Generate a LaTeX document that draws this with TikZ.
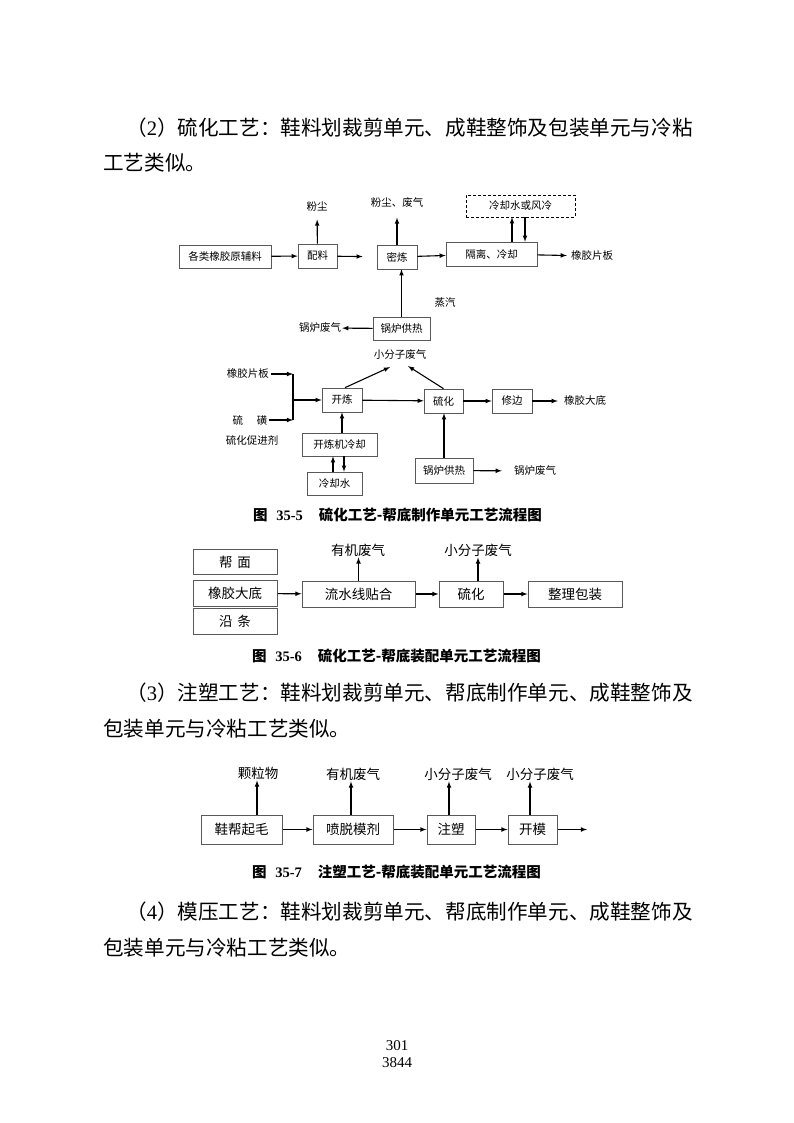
\documentclass[tikz,border=0pt]{standalone}
\usepackage{fontspec}
\setmainfont{Liberation Serif}
\newfontfamily\cjk{Noto Sans CJK SC}
\usepackage{xcolor}
\usepackage{tikz}

\begin{document}
\begin{tikzpicture}[x=1pt, y=-1pt, >=latex,
        B node/.style={draw=black!65, line width=0.7pt, inner sep=0pt, font=\cjk\fontsize{10.5}{12}\selectfont},
        T node/.style={inner sep=1pt, font=\cjk\fontsize{10.5}{12}\selectfont},
        BB node/.style={draw=black!65, line width=1pt, inner sep=0pt, font=\cjk\fontsize{13.5}{15}\selectfont},
        TT node/.style={inner sep=1pt, font=\cjk\fontsize{13.5}{15}\selectfont},
        P node/.style={anchor=west, inner sep=0pt, font=\cjk\fontsize{20.6}{26}\selectfont},
        C node/.style={anchor=west, inner sep=0pt, font=\cjk\bfseries\fontsize{14.5}{16}\selectfont},
        flow/.style={->, line width=1.1pt}]

    \useasboundingbox (0,0) rectangle (794,1123);

    % body text
    \node[P node] (p2a) at (126,128) {（\textrm{2}）硫化工艺：鞋料划裁剪单元、成鞋整饰及包装单元与冷粘};
    \node[P node] (p2b) at (103,163) {工艺类似。};

    % fig 35-5, upper part
    \node[B node, minimum width=92pt, minimum height=23pt] (raw) at (225,256.5) {各类橡胶原辅料};
    \node[B node, minimum width=39pt, minimum height=24pt] (pl) at (317.5,256) {配料};
    \node[B node, minimum width=40pt, minimum height=24pt] (ml) at (397,257) {密炼};
    \node[B node, minimum width=91pt, minimum height=24pt] (gl) at (491.5,254) {隔离、冷却};
    \node[B node, draw=black, densely dashed, minimum width=109pt, minimum height=22pt] (fl) at (520.5,206) {冷却水或风冷};
    \node[T node] (fc1) at (317,207) {粉尘};
    \node[T node] (fc2) at (397,203) {粉尘、废气};
    \node[T node] (jp1) at (592,256) {橡胶片板};
    \node[B node, minimum width=57pt, minimum height=23pt] (gr1) at (401.5,328.5) {锅炉供热};
    \node[T node] (zq) at (445,303) {蒸汽};
    \node[T node] (fq1) at (320,328) {锅炉废气};

    \path[flow]
    (raw) edge (pl)
    (pl) edge[shorten >=14pt] (ml)
    (ml) edge (gl)
    (gl) edge[shorten >=3pt] (jp1)
    (pl) edge[shorten >=6.5pt] (fc1)
    (ml) edge[shorten >=8.5pt] (fc2)
    ([xshift=20.5pt]gl.north) edge ([xshift=20.5pt]gl.north |- fl.south)
    ([xshift=33.5pt]gl.north |- fl.south) edge ([xshift=33.5pt]gl.north)
    (gr1.north) edge (gr1.north |- ml.south)
    (gr1) edge (fq1)
    ;

    % fig 35-5, lower part
    \node[T node] (xf1) at (400,355) {小分子废气};
    \node[T node, anchor=east] (jp2) at (270,374) {橡胶片板};
    \node[T node] (lhs) at (250,420) {硫\hspace{1.3em}磺};
    \node[T node] (cj) at (252,440) {硫化促进剂};
    \coordinate (b1) at (293,374);
    \coordinate (b2) at (293,420);
    \coordinate (b3) at (293,400);
    \node[B node, minimum width=40pt, minimum height=24pt] (kl) at (342,400) {开炼};
    \node[B node, minimum width=39pt, minimum height=24pt] (lh) at (443.5,401) {硫化};
    \node[B node, minimum width=40pt, minimum height=24pt] (xb) at (512,401) {修边};
    \node[T node] (dd1) at (585,401) {橡胶大底};
    \node[B node, minimum width=75pt, minimum height=23pt] (kj) at (339.5,444.5) {开炼机冷却};
    \node[B node, minimum width=55pt, minimum height=23pt] (ls) at (334.5,483.5) {冷却水};
    \node[B node, minimum width=58pt, minimum height=25pt] (gr2) at (444,470.5) {锅炉供热};
    \node[T node] (fq2) at (535,471) {锅炉废气};

    \path[flow]
    (jp2) edge[shorten <=1pt] (b1)
    (lhs) edge (b2)
    (b1) edge[-] (b2)
    (b3) edge (kl)
    (kl) edge (lh)
    (lh) edge (xb)
    (xb) edge[shorten >=5pt] (dd1)
    ([xshift=3pt]kl.north) edge ([xshift=-10pt,yshift=-6pt]xf1.south)
    (lh.north) edge ([xshift=8pt,yshift=-5pt]xf1.south)
    (kl.south |- kj.north) edge (kl.south)
    ([xshift=-1.5pt]ls.north) edge ([xshift=-1.5pt]ls.north |- kj.south)
    ([xshift=9.5pt]ls.north |- kj.south) edge ([xshift=9.5pt]ls.north)
    (gr2.north) edge (gr2.north |- lh.south)
    (gr2) edge[shorten >=11pt] (fq2)
    ;

    \node[C node] (cap1) at (253,515) {图\hspace{0.6em}{\rmfamily 35-5}\hspace{1.1em}硫化工艺-帮底制作单元工艺流程图};

    % fig 35-6
    \node[BB node, minimum width=84pt, minimum height=25pt] (bm) at (235,562) {帮\hspace{0.35em}面};
    \node[BB node, minimum width=84pt, minimum height=26pt] (dd2) at (235,593.5) {橡胶大底};
    \node[BB node, minimum width=84pt, minimum height=26pt] (yt) at (235,621) {沿\hspace{0.35em}条};
    \node[BB node, minimum width=113pt, minimum height=26pt] (lsx) at (358.5,594) {流水线贴合};
    \node[BB node, minimum width=64pt, minimum height=26pt] (lh6) at (471,594) {硫化};
    \node[BB node, minimum width=94pt, minimum height=26pt] (zl) at (575,594) {整理包装};
    \node[TT node] (yj1) at (358,550) {有机废气};
    \node[TT node] (xf6) at (478,550) {小分子废气};

    \path[flow]
    (dd2) edge (lsx)
    (lsx) edge (lh6)
    (lh6) edge (zl)
    (lsx.north) edge (lsx.north |- yj1.south)
    ([xshift=7pt]lh6.north) edge ([xshift=7pt]lh6.north |- xf6.south)
    ;

    \node[C node] (cap2) at (252,656) {图\hspace{0.6em}{\rmfamily 35-6}\hspace{1.1em}硫化工艺-帮底装配单元工艺流程图};

    % body text
    \node[P node] (p3a) at (126,693) {（\textrm{3}）注塑工艺：鞋料划裁剪单元、帮底制作单元、成鞋整饰及};
    \node[P node] (p3b) at (103,729) {包装单元与冷粘工艺类似。};

    % fig 35-7
    \node[BB node, minimum width=81pt, minimum height=29pt] (xq) at (241.5,829.5) {鞋帮起毛};
    \node[BB node, minimum width=80pt, minimum height=29pt] (pt) at (353,829.5) {喷脱模剂};
    \node[BB node, minimum width=48pt, minimum height=29pt] (zs) at (451,829.5) {注塑};
    \node[BB node, minimum width=49pt, minimum height=29pt] (km) at (532.5,829.5) {开模};
    \coordinate (out7) at (587,829.5);
    \node[TT node] (kl7) at (258,773) {颗粒物};
    \node[TT node] (yj2) at (353,774) {有机废气};
    \node[TT node] (xf7a) at (458,774) {小分子废气};
    \node[TT node] (xf7b) at (540,774) {小分子废气};

    \path[flow]
    (xq) edge (pt)
    (pt) edge (zs)
    (zs) edge (km)
    (km) edge (out7)
    ([xshift=15.5pt]xq.north) edge ([xshift=15.5pt]xq.north |- kl7.south)
    ([xshift=-2pt]pt.north) edge ([xshift=-2pt]pt.north |- yj2.south)
    ([xshift=-2pt]zs.north) edge ([xshift=-2pt]zs.north |- xf7a.south)
    ([xshift=-2.5pt]km.north) edge ([xshift=-2.5pt]km.north |- xf7b.south)
    ;

    \node[C node] (cap3) at (252,872) {图\hspace{0.6em}{\rmfamily 35-7}\hspace{1.1em}注塑工艺-帮底装配单元工艺流程图};

    % body text
    \node[P node] (p4a) at (126,912) {（\textrm{4}）模压工艺：鞋料划裁剪单元、帮底制作单元、成鞋整饰及};
    \node[P node] (p4b) at (103,948) {包装单元与冷粘工艺类似。};

    % page numbers
    \node[font=\fontsize{15}{17}\selectfont] (pg1) at (397,1046) {301};
    \node[font=\fontsize{15}{17}\selectfont] (pg2) at (397,1063) {3844};
\end{tikzpicture}
\end{document}
